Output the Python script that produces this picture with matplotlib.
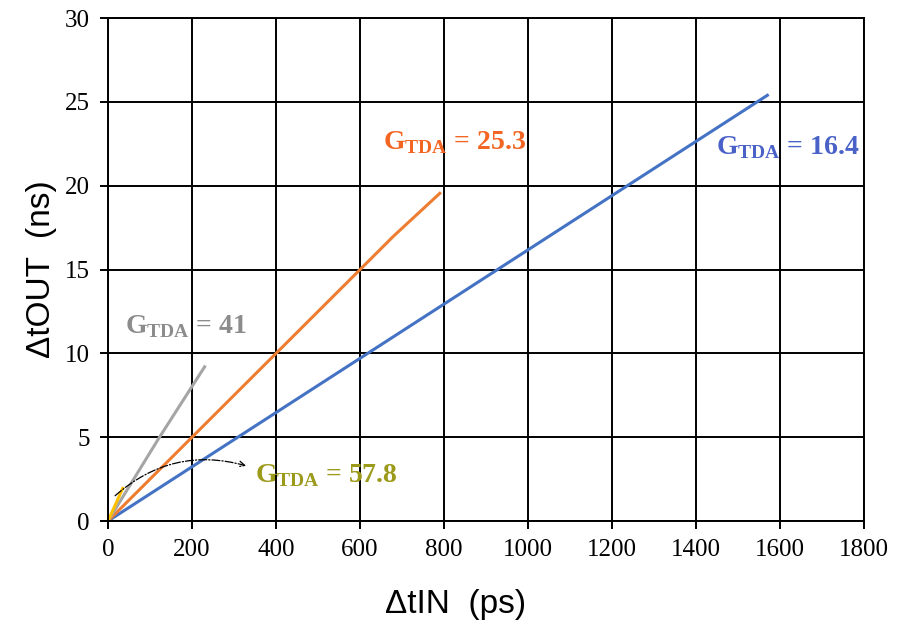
import matplotlib.pyplot as plt
import numpy as np

# curves (x in ps, y in ns)
blue_x = [0, 1570]
blue_y = [0, 25.4]
orange_x = [0, 200, 400, 600, 680, 790]
orange_y = [0, 5.0, 10.0, 15.0, 17.0, 19.55]
gray_x = [0, 120, 230]
gray_y = [0, 4.9, 9.2]
yellow_x = [0, 35]
yellow_y = [0, 1.95]

plt.rcParams['mathtext.fontset'] = 'custom'
plt.rcParams['mathtext.rm'] = 'Liberation Serif:bold'
plt.rcParams['mathtext.bf'] = 'Liberation Serif:bold'

fig = plt.figure(figsize=(9, 6.27), dpi=100)
ax = fig.add_axes([0.12, 0.169, 0.84, 0.802])

ax.plot(blue_x, blue_y, color='#4472C4', lw=2.2)
ax.plot(orange_x, orange_y, color='#ED7D31', lw=2.2)
ax.plot(gray_x, gray_y, color='#A5A5A5', lw=2.2)
ax.plot(yellow_x, yellow_y, color='#FFC000', lw=2.2)

ax.set_xlim(0, 1800)
ax.set_ylim(0, 30)
ax.set_xticks(np.arange(0, 1801, 200))
ax.set_yticks(np.arange(0, 31, 5))
ax.grid(True, color='black', lw=1.4)
ax.set_axisbelow(True)
for s in ax.spines.values():
    s.set_color('black')
    s.set_linewidth(1.4)
ax.tick_params(labelsize=18, length=6, width=1.4, color='black', pad=7)
for lab in ax.get_xticklabels() + ax.get_yticklabels():
    lab.set_fontfamily('Liberation Serif')

ax.set_xlabel('ΔtIN  (ps)', fontsize=24, fontfamily='Liberation Sans')
ax.xaxis.set_label_coords(0.46, -0.135)
ax.set_ylabel('ΔtOUT  (ns)', fontsize=24, fontfamily='Liberation Sans', labelpad=6)

tkw = dict(fontsize=20, fontfamily='Liberation Serif', fontweight='bold', va='center')
ax.text(40, 11.6, r'G$_{\mathrm{TDA}}$ = 41', color='#8C8C8C', **tkw)
ax.text(655, 22.6, r'G$_{\mathrm{TDA}}$ = 25.3', color='#F26522', **tkw)
ax.text(1448, 22.3, r'G$_{\mathrm{TDA}}$ = 16.4', color='#4A62C8', **tkw)
ax.text(350, 2.7, r'G$_{\mathrm{TDA}}$ = 57.8', color='#9C9A1A', **tkw)

ax.annotate('', xy=(335, 3.25), xytext=(12, 1.4),
            arrowprops=dict(arrowstyle='->', color='black', lw=0.9, linestyle='-.',
                            connectionstyle='arc3,rad=-0.28'))

fig.savefig('out.png', dpi=100)
